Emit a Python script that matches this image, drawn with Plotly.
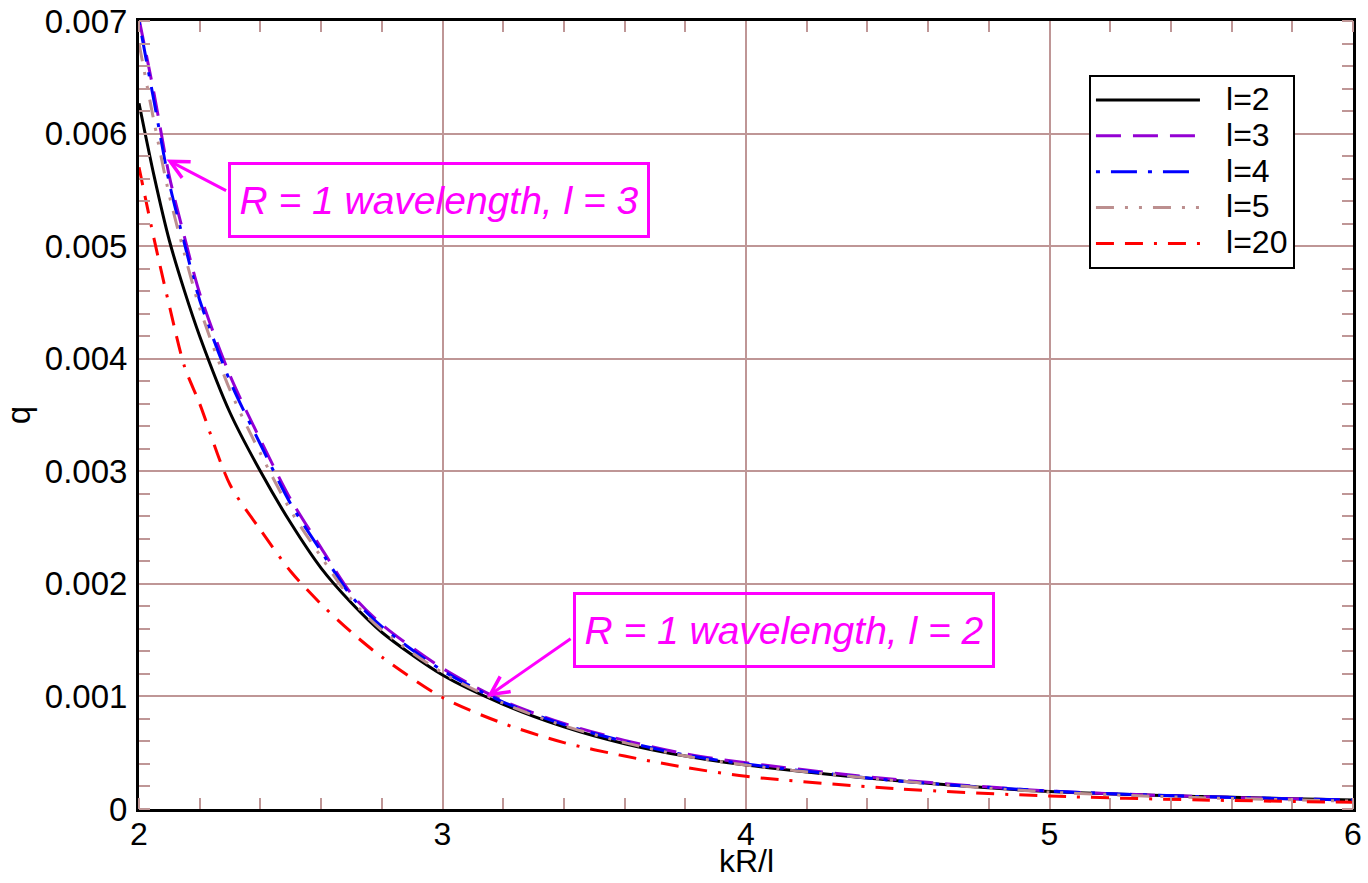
import plotly.graph_objects as go

# ---- data ----
kr_l = [2.0, 2.05, 2.1, 2.15, 2.2, 2.3, 2.4, 2.5, 2.6, 2.7, 2.8, 3.0, 3.2, 3.4, 3.6, 3.8, 4.0, 4.5, 5.0, 5.5, 6.0]

q_l2 = [0.00627, 0.00562, 0.00505, 0.00460, 0.00420, 0.00352, 0.00300, 0.00254, 0.00214, 0.00183, 0.00157,
        0.00119, 0.00093, 0.00073, 0.00058, 0.00047, 0.00039, 0.00025, 0.000155, 0.00011, 0.00008]
q_l3 = [0.00702, 0.00635, 0.00562, 0.00508, 0.00458, 0.00385, 0.00328, 0.00275, 0.00232, 0.00191, 0.00164,
        0.00125, 0.00096, 0.00076, 0.00061, 0.00049, 0.00041, 0.00026, 0.00016, 0.00011, 0.00008]
q_l4 = [0.00700, 0.00628, 0.00556, 0.00502, 0.00452, 0.00380, 0.00324, 0.00271, 0.00229, 0.00189, 0.00162,
        0.00123, 0.00095, 0.00075, 0.00060, 0.00048, 0.00040, 0.00025, 0.00016, 0.00011, 0.00008]
q_l5 = [0.00680, 0.00610, 0.00545, 0.00493, 0.00445, 0.00372, 0.00316, 0.00265, 0.00224, 0.00186, 0.00159,
        0.00121, 0.00094, 0.00074, 0.00059, 0.00047, 0.00039, 0.00025, 0.00015, 0.00010, 0.00007]
q_l20 = [0.00570, 0.00506, 0.00447, 0.00393, 0.00360, 0.00288, 0.00248, 0.00211, 0.00182, 0.00157, 0.00135,
         0.00099, 0.00076, 0.00059, 0.00047, 0.00037, 0.00029, 0.00018, 0.000115, 0.00008, 0.00006]

series_names = ["l=2", "l=3", "l=4", "l=5", "l=20"]
series_values = [q_l2, q_l3, q_l4, q_l5, q_l20]
series_colors = ["#000000", "#9400D3", "#0000FF", "#BC8F8F", "#FF0000"]
series_dash = ["solid", "25px,12px", "4px,11px,26px,11px",
               "18px,11px,3px,11px,3px,11px", "18px,11px,18px,11px,3px,11px"]

x_ticks = [2, 3, 4, 5, 6]
y_ticks = [0, 0.001, 0.002, 0.003, 0.004, 0.005, 0.006, 0.007]
y_tick_text = ["0", "0.001", "0.002", "0.003", "0.004", "0.005", "0.006", "0.007"]

FONT = "Liberation Sans, Arial, Helvetica, sans-serif"
GRID = "#bf9696"
MAG = "#FF00FF"

fig = go.Figure()
for name, vals, col, dash in zip(series_names, series_values, series_colors, series_dash):
    label = "&nbsp;&nbsp;&nbsp;<span style='font-size:32px'>" + name + "</span>"
    fig.add_trace(go.Scatter(x=kr_l, y=vals, mode="lines", name=label,
                             line=dict(color=col, width=3, dash=dash, shape="spline", smoothing=0.8)))

fig.update_layout(
    width=1368, height=883,
    margin=dict(l=139, r=15, t=21, b=74, autoexpand=False),
    paper_bgcolor="white", plot_bgcolor="white",
    font=dict(family=FONT, size=32, color="black"),
    legend=dict(x=0.7825, y=0.9315, xanchor="left", yanchor="top",
                bordercolor="black", borderwidth=2, bgcolor="white",
                font=dict(size=25.3), itemwidth=104, tracegroupgap=0),
    showlegend=True,
)

fig.update_xaxes(range=[2, 6], tickvals=x_ticks, ticktext=[str(v) for v in x_ticks],
                 showgrid=True, gridcolor=GRID, gridwidth=2, automargin=False,
                 showline=True, linecolor="black", linewidth=3, mirror="allticks",
                 ticks="", ticklen=0, zeroline=False,
                 minor=dict(dtick=0.2, ticks="inside", ticklen=11, tickwidth=2, tickcolor=GRID, showgrid=False),
                 tickfont=dict(size=32), ticklabelstandoff=0)
try:
    fig.update_xaxes(ticklabelstandoff=-5)
except ValueError:
    pass
fig.update_yaxes(range=[0, 0.007], tickvals=y_ticks, ticktext=y_tick_text,
                 showgrid=True, gridcolor=GRID, gridwidth=2, automargin=False,
                 showline=True, linecolor="black", linewidth=3, mirror="allticks",
                 ticks="", ticklen=0, zeroline=False,
                 minor=dict(dtick=0.0002, ticks="inside", ticklen=11, tickwidth=2, tickcolor=GRID, showgrid=False),
                 title=dict(text="q", standoff=12, font=dict(size=33)),
                 tickfont=dict(size=33), ticklabelstandoff=2)

# x-axis title (sits at the bottom page edge in the reference)
fig.add_annotation(xref="paper", yref="paper", x=0.5, y=0, yanchor="top", yshift=-33,
                   text="kR/l", showarrow=False, font=dict(size=32, color="black", family=FONT),
                   borderpad=0)

# annotation boxes
fig.add_annotation(x=2.988, y=0.005408, text="<i>R = 1 wavelength, l = 3</i>", showarrow=False,
                   font=dict(size=39, color=MAG, family=FONT), bordercolor=MAG, borderwidth=3,
                   borderpad=2, width=412, height=66, bgcolor="rgba(0,0,0,0)")
fig.add_annotation(x=4.1236, y=0.00159, text="<i>R = 1 wavelength, l = 2</i>", showarrow=False,
                   font=dict(size=39, color=MAG, family=FONT), bordercolor=MAG, borderwidth=3,
                   borderpad=2, width=412, height=66, bgcolor="rgba(0,0,0,0)")
# arrows
fig.add_annotation(x=2.091, y=0.00577, text="", showarrow=True, ax=61, ay=32,
                   arrowcolor=MAG, arrowwidth=3, arrowhead=5, arrowsize=1.2, standoff=0, startstandoff=0)
fig.add_annotation(x=3.147, y=0.000997, text="", showarrow=True, ax=85, ay=-59,
                   arrowcolor=MAG, arrowwidth=3, arrowhead=5, arrowsize=1.2, standoff=0, startstandoff=0)

fig.write_html("out.html", config={"displayModeBar": False},
               post_script="document.body.style.margin='0';document.documentElement.style.overflow='hidden';")
